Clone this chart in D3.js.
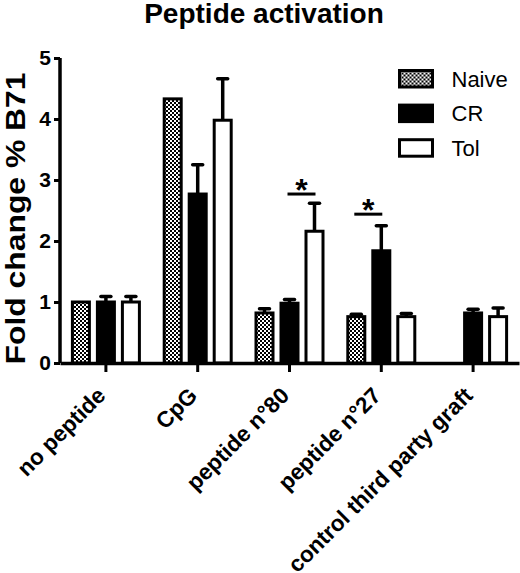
<!DOCTYPE html>
<html>
<head>
<meta charset="utf-8">
<script src="https://cdn.jsdelivr.net/npm/d3@7.9.0/dist/d3.min.js"></script>
<style>
  body { margin: 0; background: #fff; }
  svg { display: block; font-family: "Liberation Sans", Arial, sans-serif; }
</style>
</head>
<body>
<div id="chart"></div>
<script>
// Chart data
const categories = ["no peptide", "CpG", "peptide n°80", "peptide n°27", "control third party graft"];
const seriesNames = ["Naive", "CR", "Tol"];
const naiveMean = [1.0, 4.33, 0.82, 0.76, null];
const naiveErr = [0, 0, 0.07, 0.04, null];
const crMean = [1.0, 2.77, 0.98, 1.84, 0.82];
const crErr = [0.09, 0.48, 0.06, 0.41, 0.06];
const tolMean = [1.0, 3.98, 2.16, 0.76, 0.76];
const tolErr = [0.09, 0.68, 0.46, 0.05, 0.14];
const yTicks = [0, 1, 2, 3, 4, 5];
// significance brackets: category, from series, to series, level
const sigCategory = ["peptide n°80", "peptide n°27"];
const sigFrom = ["CR", "Naive"];
const sigTo = ["Tol", "CR"];
const sigLevel = [2.77, 2.44];

const W = 520, H = 573;
const margin = { top: 58, right: 1, bottom: 210, left: 60 };

const svg = d3.select("#chart")
  .append("svg")
    .attr("width", W)
    .attr("height", H);

// checkered pattern for Naive
const defs = svg.append("defs");
const pat = defs.append("pattern")
  .attr("id", "checker")
  .attr("patternUnits", "userSpaceOnUse")
  .attr("width", 4)
  .attr("height", 4);
pat.append("rect").attr("width", 4).attr("height", 4).attr("fill", "#fff");
pat.append("rect").attr("width", 2).attr("height", 2).attr("fill", "#000");
pat.append("rect").attr("x", 2).attr("y", 2).attr("width", 2).attr("height", 2).attr("fill", "#000");

const fills = { Naive: "url(#checker)", CR: "#000", Tol: "#fff" };

const means = { Naive: naiveMean, CR: crMean, Tol: tolMean };
const errs = { Naive: naiveErr, CR: crErr, Tol: tolErr };

const x0 = d3.scaleBand()
  .domain(categories)
  .range([margin.left, W - margin.right])
  .padding(0);

const x1 = d3.scaleBand()
  .domain(seriesNames)
  .range([-37.5, 37.5])
  .paddingInner(0.2)
  .paddingOuter(0.1);

const y = d3.scaleLinear()
  .domain([0, 5])
  .range([H - margin.bottom, margin.top]);

const center = c => x0(c) + x0.bandwidth() / 2;

// flatten to bar records
const bars = [];
categories.forEach((c, i) => {
  seriesNames.forEach(s => {
    const v = means[s][i];
    if (v != null) bars.push({ cat: c, series: s, value: v, err: errs[s][i] });
  });
});

const g = svg.append("g");

// error bars (drawn behind bars)
const eb = g.selectAll(".err")
  .data(bars.filter(d => d.err > 0))
  .join("g")
    .attr("class", "err")
    .attr("transform", d => `translate(${center(d.cat) + x1(d.series) + x1.bandwidth() / 2},0)`);

eb.append("line")
  .attr("y1", d => y(d.value))
  .attr("y2", d => y(d.value + d.err))
  .attr("stroke", "#000")
  .attr("stroke-width", 3.5);

eb.append("line")
  .attr("x1", -5)
  .attr("x2", 5)
  .attr("y1", d => y(d.value + d.err))
  .attr("y2", d => y(d.value + d.err))
  .attr("stroke", "#000")
  .attr("stroke-width", 3.5)
  .attr("stroke-linecap", "round");

// bars
g.selectAll(".bar")
  .data(bars)
  .join("rect")
    .attr("class", "bar")
    .attr("x", d => center(d.cat) + x1(d.series) + 1.5)
    .attr("width", x1.bandwidth() - 3)
    .attr("y", d => y(d.value))
    .attr("height", d => y(0) - y(d.value))
    .attr("fill", d => fills[d.series])
    .attr("stroke", "#000")
    .attr("stroke-width", 3);

// y axis
const yAxis = svg.append("g")
  .attr("transform", `translate(${margin.left},0)`)
  .call(d3.axisLeft(y).tickValues(yTicks).tickSize(6).tickPadding(3).tickFormat(d3.format("d")));
yAxis.select(".domain").attr("d", `M0,${y(0)}V${y(5)}`).attr("stroke-width", 3.5);
yAxis.selectAll(".tick line").attr("stroke-width", 3);
yAxis.selectAll(".tick text")
  .style("font-size", "21px")
  .style("font-weight", "bold")
  .attr("fill", "#000");

// x axis
const xAxis = svg.append("g")
  .attr("transform", `translate(0,${y(0)})`)
  .call(d3.axisBottom(x0).tickSize(9).tickSizeOuter(0));
xAxis.select(".domain").attr("stroke-width", 3.5);
xAxis.selectAll(".tick line").attr("stroke-width", 3);
xAxis.selectAll(".tick text")
  .style("font-size", "22.5px")
  .style("font-weight", "bold")
  .attr("fill", "#000")
  .attr("text-anchor", "end")
  .attr("transform", "translate(1,34) rotate(-45)")
  .attr("x", 0)
  .attr("y", 0)
  .attr("dy", 0);

// significance bars
sigCategory.forEach((c, i) => {
  const xa = center(c) + x1(sigFrom[i]) + x1.bandwidth() / 2 - 2;
  const xb = center(c) + x1(sigTo[i]) + x1.bandwidth() / 2 + 1;
  const yy = y(sigLevel[i]);
  svg.append("line")
    .attr("x1", xa).attr("x2", xb)
    .attr("y1", yy).attr("y2", yy)
    .attr("stroke", "#000")
    .attr("stroke-width", 3);
  svg.append("text")
    .attr("x", (xa + xb) / 2)
    .attr("y", yy + 7)
    .attr("text-anchor", "middle")
    .style("font-size", "32px")
    .style("font-weight", "bold")
    .text("*");
});

// legend
const legend = svg.append("g")
  .attr("transform", "translate(399.5,70.5)");
const li = legend.selectAll(".li")
  .data(seriesNames)
  .join("g")
    .attr("class", "li")
    .attr("transform", (d, i) => `translate(0,${i * 34.6})`);
li.append("rect")
  .attr("width", 33)
  .attr("height", 16.5)
  .attr("fill", d => fills[d])
  .attr("stroke", "#000")
  .attr("stroke-width", 3);
li.append("text")
  .attr("x", 52)
  .attr("y", 16)
  .style("font-size", "22px")
  .text(d => d);

// title
svg.append("text")
  .attr("x", 264)
  .attr("y", 23)
  .attr("text-anchor", "middle")
  .style("font-size", "28px")
  .style("font-weight", "bold")
  .text("Peptide activation");

// y axis label
svg.append("text")
  .attr("transform", `translate(25,${(72 + 365) / 2}) rotate(-90)`)
  .attr("text-anchor", "middle")
  .attr("textLength", 292)
  .attr("lengthAdjust", "spacingAndGlyphs")
  .style("font-size", "27px")
  .style("font-weight", "bold")
  .text("Fold change % B71");
</script>
</body>
</html>
